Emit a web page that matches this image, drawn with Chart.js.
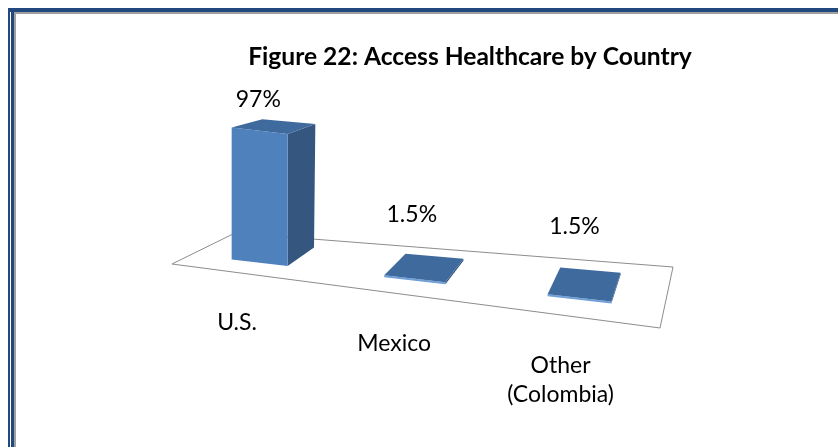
<!DOCTYPE html>
<html>
<head>
<meta charset="utf-8">
<script src="https://cdn.jsdelivr.net/npm/chart.js@4.4.0/dist/chart.umd.min.js"></script>
<style>
  html, body { margin: 0; padding: 0; background: #fff; }
  .wrap { position: relative; width: 838px; height: 447px; overflow: hidden; }
  .f1 { position: absolute; left: 8px; top: 8px; width: 900px; height: 500px; border-left: 2px solid #22497f; border-top: 4px solid #22497f; }
  .f2 { position: absolute; left: 11px; top: 8px; width: 900px; height: 500px; border-left: 3px solid #22497f; }
  .f3 { position: absolute; left: 14px; top: 12px; width: 900px; height: 500px; border-left: 2px solid #a0a0a0; border-top: 2px solid #a0a0a0; }
  canvas { position: absolute; left: 0; top: 0; }
</style>
</head>
<body>
<div class="wrap">
  <div class="f1"></div>
  <div class="f2"></div>
  <div class="f3"></div>
  <canvas id="myChart" width="838" height="447"></canvas>
</div>
<script>
// 資料
var categories = ['U.S.', 'Mexico', ['Other', '(Colombia)']];
var values = [97, 1.5, 1.5];
var valueLabels = ['97%', '1.5%', '1.5%'];
var titleText = 'Figure 22: Access Healthcare by Country';

var FONT = 'Lato, "Open Sans", sans-serif';

// 3D 視角：地板四角 (相對 chartArea)
var view = {
  frontDrop: 64,          // 右前角比左前角低多少
  backLeft: [63, -31],    // 左後角相對左前角
  backRight: [13, -61],   // 右後角相對右前角
  persp: 1.08,            // 橫向透視
  hx: 0.02, hy: 0.13,     // 高處的深度方向比較平
  t0: 0.3, t1: 0.8        // 柱子前後深度
};

function makeProj(area) {
  var FL = [area.left, area.bottom];
  var FR = [area.right, area.bottom + view.frontDrop];
  var BL = [FL[0] + view.backLeft[0], FL[1] + view.backLeft[1]];
  var BR = [FR[0] + view.backRight[0], FR[1] + view.backRight[1]];
  return function (s, t, h) {
    var fx = FL[0] + s * (FR[0] - FL[0]), fy = FL[1] + s * (FR[1] - FL[1]);
    var bx = BL[0] + s * (BR[0] - BL[0]), by = BL[1] + s * (BR[1] - BL[1]);
    var dt = Math.max(0, t - view.t0);
    return [fx + t * (bx - fx) + view.hx * h * dt, fy + t * (by - fy) - h + view.hy * h * dt];
  };
}

function poly(ctx, pts, fill, stroke) {
  ctx.beginPath();
  ctx.moveTo(pts[0][0], pts[0][1]);
  for (var i = 1; i < pts.length; i++) ctx.lineTo(pts[i][0], pts[i][1]);
  ctx.closePath();
  if (fill) { ctx.fillStyle = fill; ctx.fill(); }
  if (stroke) { ctx.strokeStyle = stroke; ctx.lineWidth = 1; ctx.stroke(); }
}

const bar3d = {
  id: 'bar3d',
  beforeDatasetsDraw: function (chart) {
    const ctx = chart.ctx;
    const area = chart.chartArea;
    const P = makeProj(area);
    const sMap = function (x) { return Math.pow((x - area.left) / (area.right - area.left), view.persp); };
    ctx.save();

    // 標題 (圖表本身比畫面寬，所以標題中心偏右)
    ctx.font = 'bold 24.6px ' + FONT;
    ctx.fillStyle = '#000';
    ctx.textAlign = 'center';
    ctx.textBaseline = 'middle';
    ctx.fillText(titleText, 470, 57);

    // 地板
    poly(ctx, [P(0, 0, 0), P(1, 0, 0), P(1, 1, 0), P(0, 1, 0)], '#fff', '#8c8c8c');

    const meta = chart.getDatasetMeta(0);
    meta.data.forEach(function (el, i) {
      var s0 = sMap(el.x - el.width / 2), s1 = sMap(el.x + el.width / 2), sc = sMap(el.x);
      var h = el.base - el.y;
      var t0 = view.t0, t1 = view.t1;
      // 側面
      poly(ctx, [P(s1, t0, 0), P(s1, t1, 0), P(s1, t1, h), P(s1, t0, h)], '#34567f');
      // 正面
      poly(ctx, [P(s0, t0, 0), P(s1, t0, 0), P(s1, t0, h), P(s0, t0, h)], h < 4 ? '#6f9fd8' : '#4f81bd');
      // 頂面
      poly(ctx, [P(s0, t0, h), P(s1, t0, h), P(s1, t1, h), P(s0, t1, h)], '#3f6a9e');

      // 數值標籤
      ctx.font = '23px ' + FONT;
      ctx.fillStyle = '#000';
      var lx = P(sc, 0.3, h)[0] - 6 * sc;
      var ly = P(sc, 1, 0)[1] - 33 - 0.8 * h;
      ctx.fillText(valueLabels[i], lx, ly);

      // 類別標籤
      var lab = categories[i];
      var lines = Array.isArray(lab) ? lab : [lab];
      var base = P(sc, 0, 0);
      lines.forEach(function (line, k) {
        ctx.fillText(line, base[0] - 4 - 10 * sc, base[1] + 49 + k * 29);
      });
    });
    ctx.restore();
    return false; // 不畫原本的 2D 柱子
  }
};

var ctx = document.getElementById('myChart');
var myChart = new Chart(ctx, {
  type: 'bar',
  data: {
    labels: categories,
    datasets: [{
      data: values,
      backgroundColor: '#4f81bd',
      barPercentage: 0.38,
      categoryPercentage: 1
    }]
  },
  options: {
    responsive: false,
    animation: false,
    layout: { padding: { left: 172, right: 178, top: 128, bottom: 183 } },
    scales: {
      x: { display: false },
      y: { display: false, min: 0, max: 100 }
    },
    plugins: {
      legend: { display: false },
      tooltip: { enabled: false },
      title: { display: false }
    }
  },
  plugins: [bar3d]
});
</script>
</body>
</html>
